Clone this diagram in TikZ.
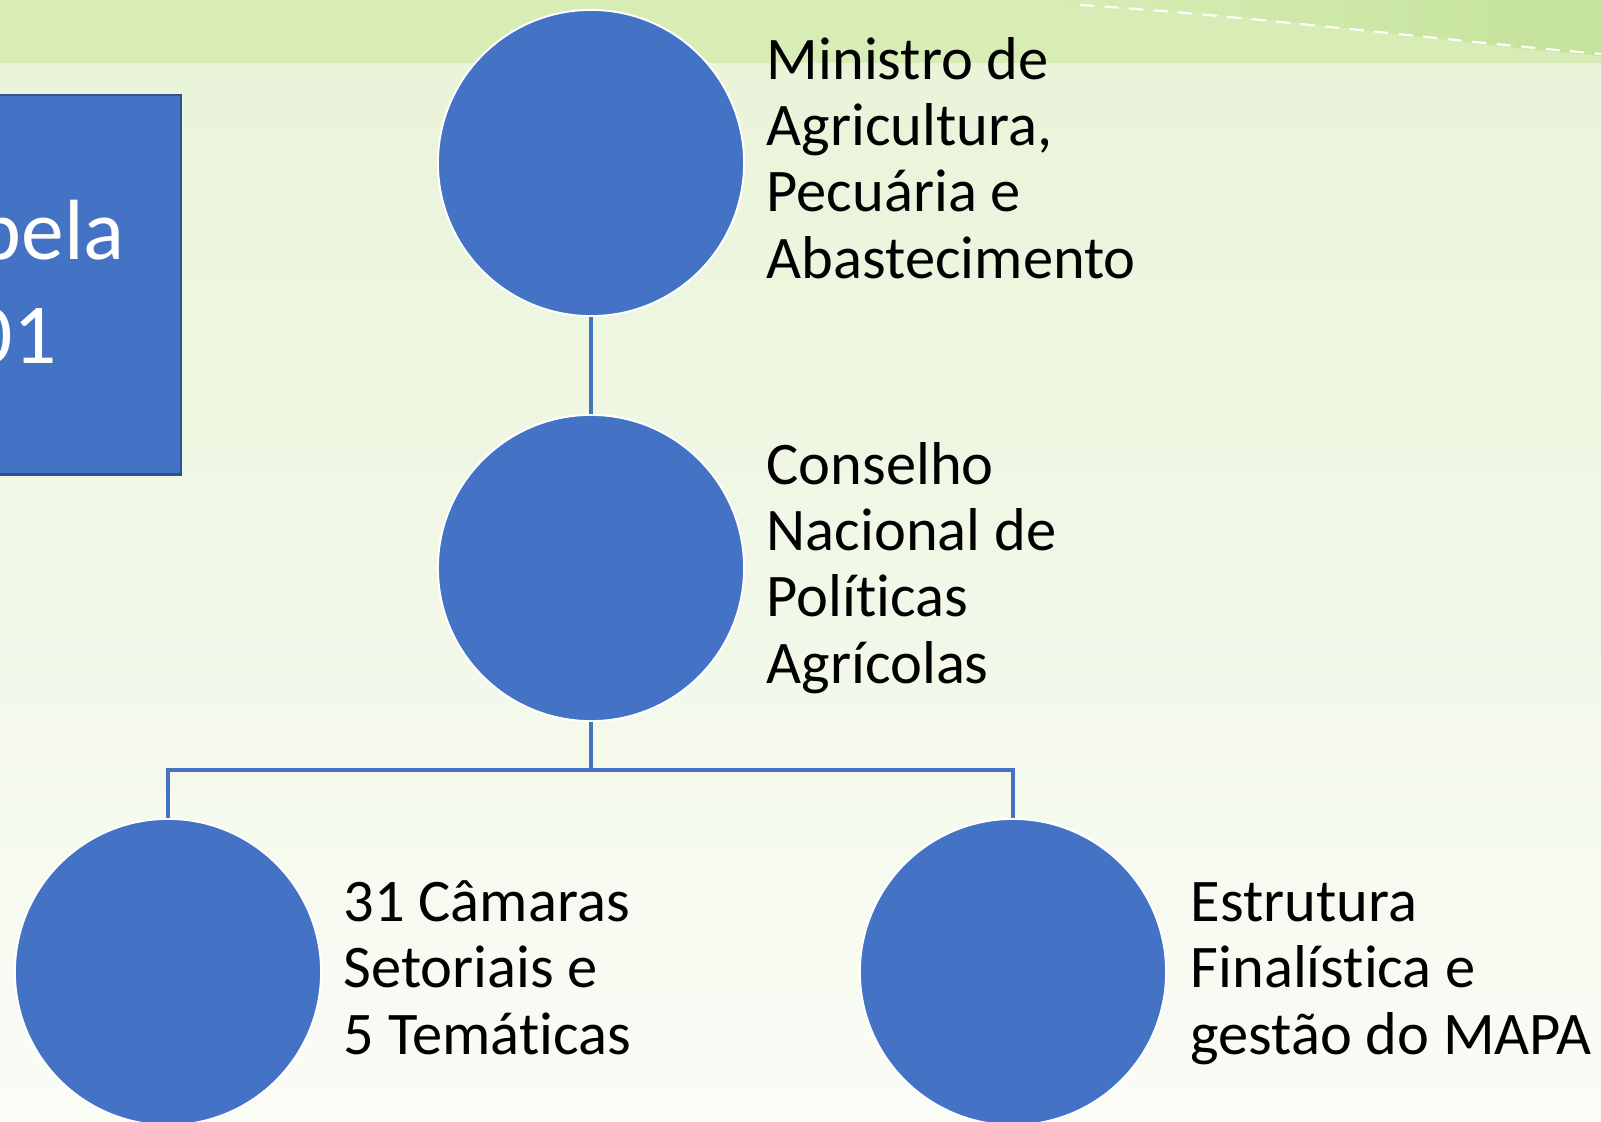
\documentclass[tikz,border=0pt]{standalone}
\usepackage{fontspec}
\setmainfont{Carlito}[Ligatures=NoCommon]

\definecolor{nodeblue}{HTML}{4472C4}
\definecolor{boxedge}{HTML}{2F528F}
\definecolor{bandgreen}{HTML}{D8EDB6}
\definecolor{banddark}{HTML}{C4E39B}
\definecolor{bgtop}{HTML}{E9F4D9}
\definecolor{bgbottom}{HTML}{FAFCF6}

\tikzset{
  unit/.style={circle, fill=nodeblue, draw=white, line width=0.55pt, minimum size=3.06cm, inner sep=0pt},
  desc/.style={anchor=base west, align=left, inner sep=0pt, font=\fontsize{17.2}{18.8}\selectfont},
  link/.style={draw=nodeblue, line width=0.9pt}
}

\begin{document}
\begin{tikzpicture}[x=0.01cm, y=-0.01cm]
    \useasboundingbox (0,0) rectangle (1601,1121);
    \clip (0,0) rectangle (1601,1121);
    % Background
    \shade[top color=bgtop, bottom color=bgbottom] (0,63) rectangle (1601,1121);
    \fill[bandgreen] (0,0) rectangle (1601,63);
    \shade[left color=bandgreen, right color=banddark] (1040,0) .. controls (1250,12) and (1420,40) .. (1601,56) -- (1601,0) -- cycle;
    \draw[white, line width=0.6pt, dash pattern=on 4pt off 3pt] (1080,5) .. controls (1250,16) and (1420,38) .. (1601,54);
    % Box on the left
    \node[draw=boxedge, fill=nodeblue, line width=0.7pt, anchor=north east, minimum width=3cm, minimum height=3.79cm] (tbl) at (182,94) {};
    \node[white, anchor=base, align=center, inner sep=0pt, font=\fontsize{24.3}{29.3}\selectfont] (tbltxt) at (13,363) {Tabela\\01};
    % Level 1
    \node[unit] (minist) at (591,163) {};
    \node[desc] (ministtxt) at (766,278) {Ministro de\\Agricultura,\\Pecuária e\\Abastecimento};
    % Level 2
    \node[unit] (cnpa) at (591,568) {};
    \node[desc] (cnpatxt) at (766,683) {Conselho\\Nacional de\\Políticas\\Agrícolas};
    % Level 3
    \node[unit] (camaras) at (168,972) {};
    \node[desc] (camarastxt) at (343,1054) {31 Câmaras\\Setoriais e\\5 Temáticas};
    \node[unit] (mapa) at (1013,972) {};
    \node[desc] (mapatxt) at (1190,1054) {Estrutura\\Finalística e\\gestão do MAPA};
    % Connectors
    \draw[link] (minist) -- (cnpa);
    \draw[link] (cnpa.south) -- ++(0,48) coordinate (fork);
    \draw[link] (fork) -| (camaras.north);
    \draw[link] (fork) -| (mapa.north);
\end{tikzpicture}
\end{document}
